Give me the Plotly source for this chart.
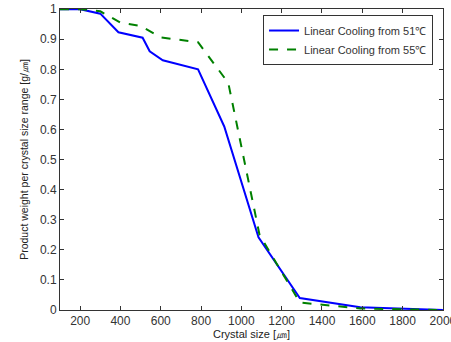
import plotly.graph_objects as go

size_51 = [100, 200, 300, 390, 510, 545, 610, 785, 915, 1085, 1290, 1590, 2000]
weight_51 = [1.0, 1.0, 0.985, 0.923, 0.905, 0.86, 0.83, 0.80, 0.61, 0.242, 0.04, 0.009, 0.0]

size_55 = [100, 200, 300, 400, 500, 600, 785, 935, 1090, 1290, 1590, 2000]
weight_55 = [1.0, 1.0, 0.993, 0.955, 0.944, 0.906, 0.89, 0.755, 0.25, 0.025, 0.005, 0.0]

x_ticks = list(range(200, 2001, 200))
y_ticks = [round(i * 0.1, 1) for i in range(11)]
y_tick_text = ["0", "0.1", "0.2", "0.3", "0.4", "0.5", "0.6", "0.7", "0.8", "0.9", "1"]

fig = go.Figure()
fig.add_trace(go.Scatter(x=size_51, y=weight_51, mode="lines", name="Linear Cooling from 51℃",
                         line=dict(color="#0000ff", width=2)))
fig.add_trace(go.Scatter(x=size_55, y=weight_55, mode="lines", name="Linear Cooling from 55℃",
                         line=dict(color="#008000", width=2, dash="dash")))

axis_common = dict(showgrid=False, zeroline=False, showline=True, linecolor="#333333", linewidth=1,
                   mirror="ticks", ticks="inside", ticklen=4, tickcolor="#333333", automargin=False,
                   ticklabeloverflow="allow",
                   tickfont=dict(family="Liberation Sans, Arial", size=12, color="#333333"))

fig.update_layout(
    width=451, height=342,
    margin=dict(l=60, r=8, t=9, b=32),
    paper_bgcolor="white", plot_bgcolor="white",
    font=dict(family="Liberation Sans, Arial", size=10, color="#222222"),
    xaxis=dict(range=[100, 2000.5], tickvals=x_ticks, title=dict(text="Crystal size [㎛]", standoff=2,
               font=dict(size=11)), **axis_common),
    yaxis=dict(range=[0, 1.0005], tickvals=y_ticks, ticktext=y_tick_text,
               title=dict(text="Product weight per crystal size range [g/㎛]", standoff=9, font=dict(size=10.5)),
               **axis_common),
    legend=dict(x=0.974, y=0.98, xanchor="right", yanchor="top", bordercolor="#333333", borderwidth=1,
                bgcolor="white", font=dict(size=11, color="#333333"), tracegroupgap=0,
                itemwidth=30),
    showlegend=True,
)

fig.write_html("out.html")
